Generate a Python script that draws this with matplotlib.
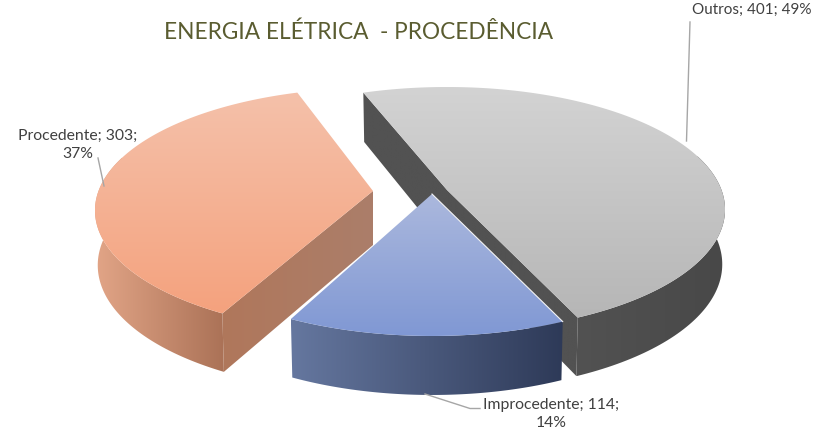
#Exploded 3D look pie, energia eletrica - procedencia

import matplotlib
matplotlib.use('Agg')
import matplotlib.pyplot as plt
from matplotlib.patches import Polygon
import numpy as np

plt.rcParams['font.family'] = ['Lato', 'DejaVu Sans']

title = 'ENERGIA ELÉTRICA  - PROCEDÊNCIA'
labels = ['Outros', 'Improcedente', 'Procedente']
values = [401, 114, 303]

#layout of the pie, in pixels
first_angle = -20.0 #clockwise from the back of the pie
slice_rot = [-0.5, -0.5, 1.5] #small extra turn per slice, degrees
apex = [(447, 190), (432, 194), (373, 191)] #exploded slice centres
persp = 0.159
scale_x = 274.5
scale_y = 119.4
depth = 54
depth_slope = 5

#gradients, (start,end)
top_cols = [('#d3d3d3', '#b6b6b6'), ('#abb8dd', '#8098d4'), ('#f5c1aa', '#f4a27e')]
wall_cols = [('#525252', '#484848'), ('#65779f', '#2e3a58'), ('#e2a587', '#ab7257')]
cut_cols = [('#525252', '#525252'), None, ('#b0775b', '#ab7e6a')]


def top_point(a, c):
    #a in degrees clockwise from the back, perspective projection of unit circle
    u = np.sin(np.radians(a))
    v = -np.cos(np.radians(a))
    w = 1 - persp * v
    return c[0] + scale_x * u / w, c[1] + scale_y * v / w, v


def bottom_point(a, c):
    x, y, v = top_point(a, c)
    return c[0] + (x - c[0]) * 0.99, y + depth + depth_slope * v


def to_rgb(col):
    return np.array(matplotlib.colors.to_rgb(col))


def fill_gradient(ax, pts, cols, horizontal=False, zorder=1):
    #paint a two colour gradient clipped to the polygon
    pts = np.array(pts)
    x0, x1 = pts[:, 0].min(), pts[:, 0].max()
    y0, y1 = pts[:, 1].min(), pts[:, 1].max()
    t = np.linspace(0, 1, 200)[:, None]
    ramp = to_rgb(cols[0]) * (1 - t) + to_rgb(cols[1]) * t
    img = ramp[None, :, :] if horizontal else ramp[:, None, :]
    im = ax.imshow(img, extent=(x0, x1, y1, y0), aspect='auto', zorder=zorder,
                   interpolation='bilinear')
    patch = Polygon(pts, closed=True, transform=ax.transData, facecolor='none',
                    edgecolor='none')
    ax.add_patch(patch)
    im.set_clip_path(patch)


def cut_wall(a, c):
    return [top_point(a, c)[:2], c, (c[0], c[1] + depth), bottom_point(a, c)]


fig = plt.figure(figsize=(8.25, 4.3), dpi=100)
ax = fig.add_axes([0, 0, 1, 1])
ax.axis('off')

#slice angles come from the values
sweep = np.array(values) / np.sum(values) * 360
starts = first_angle + np.concatenate(([0], np.cumsum(sweep)[:-1])) + np.array(slice_rot)

for i in range(len(values)):
    c = apex[i]
    angs = np.linspace(starts[i], starts[i] + sweep[i], 160)
    z = 2 + i * 3
    #outer wall, only the part that faces the viewer
    front = angs[np.cos(np.radians(angs)) < 0.3]
    top_arc = [top_point(a, c)[:2] for a in front]
    bot_arc = [bottom_point(a, c) for a in front]
    fill_gradient(ax, top_arc + bot_arc[::-1], wall_cols[i], horizontal=True, zorder=z)
    #cut walls
    if i == 0:
        fill_gradient(ax, cut_wall(starts[i], c), cut_cols[i], horizontal=True, zorder=z)
        fill_gradient(ax, cut_wall(starts[i] + sweep[i], c), cut_cols[i], horizontal=True, zorder=z)
    if i == 2:
        fill_gradient(ax, cut_wall(starts[i], c), cut_cols[i], horizontal=True, zorder=z)
    #top face
    face = [c] + [top_point(a, c)[:2] for a in angs]
    fill_gradient(ax, face, top_cols[i], zorder=z + 1)

#thin light edge where blue meets the orange wall
ax.plot([apex[1][0], top_point(starts[1], apex[1])[0]],
        [apex[1][1], top_point(starts[1], apex[1])[1]], color='#f4f4f4', lw=0.8, zorder=12)

ax.set_xlim(0, 825)
ax.set_ylim(430, 0)

#leader lines
ax.plot([690, 686.5], [22, 141], color='#a6a6a6', lw=1, zorder=20)
ax.plot([98, 104], [158, 186], color='#a6a6a6', lw=1, zorder=20)
ax.plot([425, 470, 480], [394, 408.5, 408.5], color='#a6a6a6', lw=1, zorder=20)

pct = [round(v / sum(values) * 100) for v in values]
txt = dict(color='#404040', zorder=21, linespacing=1.3)
ax.text(692, 10, '{}; {}; {}%'.format(labels[0], values[0], pct[0]),
        ha='left', va='center', fontsize=11, **txt)
ax.text(551, 414, '{}; {};\n{}%'.format(labels[1], values[1], pct[1]),
        ha='center', va='center', fontsize=11.3, **txt)
ax.text(78, 145, '{}; {};\n{}%'.format(labels[2], values[2], pct[2]),
        ha='center', va='center', fontsize=11.3, **txt)

ax.text(359, 32, title, ha='center', va='center', fontsize=16.3, color='#5a5c30')

plt.savefig('out.png', dpi=100)
